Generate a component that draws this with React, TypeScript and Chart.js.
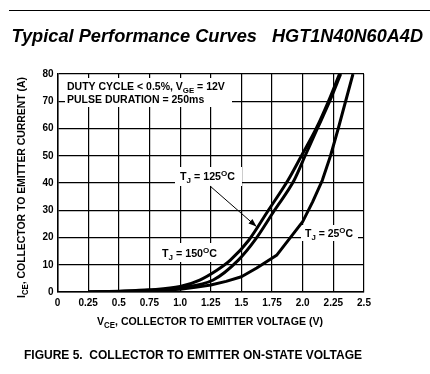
import React, { useEffect, useRef } from "react";
import { Chart, registerables } from "chart.js";

Chart.register(...registerables);

const xTickLabels = ["0", "0.25", "0.5", "0.75", "1.0", "1.25", "1.5", "1.75", "2.0", "2.25", "2.5"];
const yTickLabels = ["0", "10", "20", "30", "40", "50", "60", "70", "80"];

const vce25 = [0.25, 0.5, 0.75, 1.0, 1.125, 1.25, 1.375, 1.5, 1.625, 1.79, 2.0, 2.08, 2.16, 2.227, 2.29, 2.35, 2.41];
const ice25 = [0, 0.15, 0.4, 1.0, 1.7, 2.6, 3.9, 5.6, 8.8, 13.6, 25.8, 33, 41, 50, 60, 70, 80];

const vce125 = [0.25, 0.5, 0.75, 1.0, 1.27, 1.475, 1.61, 1.77, 1.93, 2.02, 2.12, 2.22, 2.31];
const ice125 = [0, 0.2, 0.6, 1.6, 4.4, 11.7, 19, 30, 41, 50, 60, 70, 80];

const vce150 = [0.25, 0.5, 0.75, 1.0, 1.16, 1.3, 1.41, 1.56, 1.72, 1.88, 1.99, 2.11, 2.21, 2.3];
const ice150 = [0, 0.3, 0.8, 2, 4.4, 8, 11.7, 19, 30, 41, 50, 60, 70, 80];

const FONT = "'Liberation Sans', Arial, Helvetica, sans-serif";

type Part = { t: string; s?: "sub" | "sup" };

function partFont(p: Part, size: number, style: string) {
  const sz = p.s ? size * 0.75 : size;
  return `${style} ${sz}px ${FONT}`;
}

function measureRich(ctx: CanvasRenderingContext2D, parts: Part[], size: number, style: string) {
  let w = 0;
  for (const p of parts) {
    ctx.font = partFont(p, size, style);
    w += ctx.measureText(p.t).width;
  }
  return w;
}

function drawRich(
  ctx: CanvasRenderingContext2D,
  parts: Part[],
  x: number,
  y: number,
  size: number,
  style: string,
  targetWidth?: number
) {
  const w = measureRich(ctx, parts, size, style);
  ctx.save();
  ctx.translate(x, y);
  if (targetWidth) ctx.scale(targetWidth / w, 1);
  ctx.textBaseline = "alphabetic";
  ctx.textAlign = "left";
  ctx.fillStyle = "#000";
  let cx = 0;
  for (const p of parts) {
    ctx.font = partFont(p, size, style);
    const dy = p.s === "sub" ? size * 0.3 : p.s === "sup" ? -size * 0.42 : 0;
    ctx.fillText(p.t, cx, dy);
    cx += ctx.measureText(p.t).width;
  }
  ctx.restore();
}

const decorPlugin = {
  id: "decor",
  beforeDatasetsDraw(chart: any) {
    const ctx: CanvasRenderingContext2D = chart.ctx;
    const xs = chart.scales.x;
    const ys = chart.scales.y;
    const px = (v: number) => xs.getPixelForValue(v);
    const py = (v: number) => ys.getPixelForValue(v);
    ctx.save();
    ctx.fillStyle = "#fff";
    ctx.fillRect(65, 78, 167, 29);
    ctx.fillRect(175, 167, 67, 19);
    ctx.fillRect(160, 243, 61, 19);
    ctx.fillRect(301, 225, 57, 16);
    ctx.restore();

    drawRich(ctx, [{ t: "DUTY CYCLE < 0.5%, V" }, { t: "GE", s: "sub" }, { t: " = 12V" }], 67, 90, 10.5, "bold");
    drawRich(ctx, [{ t: "PULSE DURATION = 250ms" }], 67, 103, 10.5, "bold");

    const tj = (val: string): Part[] => [{ t: "T" }, { t: "J", s: "sub" }, { t: " = " + val }, { t: "O", s: "sup" }, { t: "C" }];
    drawRich(ctx, tj("125"), 180, 180, 10.5, "bold", 55);
    drawRich(ctx, tj("150"), 162, 257, 10.5, "bold", 55);
    drawRich(ctx, tj("25"), 305, 237, 10.5, "bold", 48);

    const x0 = px(1.244), y0 = py(38.9);
    const x1 = px(1.623), y1 = py(24.0);
    ctx.save();
    ctx.strokeStyle = "#000";
    ctx.lineWidth = 1;
    ctx.beginPath();
    ctx.moveTo(x0, y0);
    ctx.lineTo(x1, y1);
    ctx.stroke();
    const ang = Math.atan2(y1 - y0, x1 - x0);
    const L = 8, W = 3;
    ctx.fillStyle = "#000";
    ctx.beginPath();
    ctx.moveTo(x1, y1);
    ctx.lineTo(x1 - L * Math.cos(ang) + W * Math.sin(ang), y1 - L * Math.sin(ang) - W * Math.cos(ang));
    ctx.lineTo(x1 - L * Math.cos(ang) - W * Math.sin(ang), y1 - L * Math.sin(ang) + W * Math.cos(ang));
    ctx.closePath();
    ctx.fill();
    ctx.restore();
  },
  afterDraw(chart: any) {
    const ctx: CanvasRenderingContext2D = chart.ctx;
    ctx.save();
    ctx.strokeStyle = "#000";
    ctx.lineWidth = 1;
    ctx.beginPath();
    ctx.moveTo(9, 10.5);
    ctx.lineTo(430, 10.5);
    ctx.stroke();
    ctx.restore();

    drawRich(ctx, [{ t: "Typical Performance Curves" }], 11.5, 41.5, 18.5, "italic bold", 245.5);
    drawRich(ctx, [{ t: "HGT1N40N60A4D" }], 272, 41.5, 18.5, "italic bold", 151);

    drawRich(ctx, [{ t: "V" }, { t: "CE", s: "sub" }, { t: ", COLLECTOR TO EMITTER VOLTAGE (V)" }], 97, 325, 11, "bold", 226);

    ctx.save();
    ctx.translate(25, 298);
    ctx.rotate(-Math.PI / 2);
    drawRich(ctx, [{ t: "I" }, { t: "CE", s: "sub" }, { t: ", COLLECTOR TO EMITTER CURRENT (A)" }], 0, 0, 11, "bold", 221);
    ctx.restore();

    drawRich(ctx, [{ t: "FIGURE 5.  COLLECTOR TO EMITTER ON-STATE VOLTAGE" }], 24, 359, 12, "bold", 338);
  },
};

function pts(xs: number[], ys: number[]) {
  return xs.map((x, i) => ({ x, y: ys[i] }));
}

export default function App() {
  const ref = useRef<HTMLCanvasElement | null>(null);
  useEffect(() => {
    if (!ref.current) return;
    const line = (label: string, data: any, smooth: boolean) => ({
      label,
      data,
      borderColor: "#000",
      borderWidth: 3,
      pointRadius: 0,
      fill: false,
      tension: 0,
      borderJoinStyle: "round" as const,
      cubicInterpolationMode: smooth ? ("monotone" as const) : ("default" as const),
    });
    const chart = new Chart(ref.current, {
      type: "line",
      data: {
        datasets: [
          line("TJ = 25°C", pts(vce25, ice25), false),
          line("TJ = 125°C", pts(vce125, ice125), true),
          line("TJ = 150°C", pts(vce150, ice150), true),
        ],
      },
      options: {
        responsive: false,
        animation: false,
        layout: { padding: { left: 0, top: 74, right: 66, bottom: 0 } },
        plugins: { legend: { display: false }, tooltip: { enabled: false } },
        scales: {
          x: {
            type: "linear",
            min: 0,
            max: 2.5,
            afterFit: (s: any) => {
              s.height = 82;
            },
            afterBuildTicks: (s: any) => {
              s.ticks = xTickLabels.map((_, i) => ({ value: i * 0.25 }));
            },
            ticks: {
              callback: (_v: any, i: number) => xTickLabels[i],
              color: "#000",
              font: { family: FONT, size: 10, weight: "bold" },
              padding: 5,
              maxRotation: 0,
              autoSkip: false,
            },
            grid: { color: "#000", lineWidth: 1.2, drawTicks: false },
            border: { color: "#000", width: 1.5 },
          },
          y: {
            type: "linear",
            min: 0,
            max: 80,
            afterFit: (s: any) => {
              s.width = 57.5;
            },
            afterBuildTicks: (s: any) => {
              s.ticks = yTickLabels.map((_, i) => ({ value: i * 10 }));
            },
            ticks: {
              callback: (_v: any, i: number) => yTickLabels[i],
              color: "#000",
              font: { family: FONT, size: 10, weight: "bold" },
              padding: 4,
              autoSkip: false,
            },
            grid: { color: "#000", lineWidth: 1.2, drawTicks: false },
            border: { color: "#000", width: 1.5 },
          },
        },
      },
      plugins: [decorPlugin],
    });
    return () => chart.destroy();
  }, []);
  return (
    <div style={{ position: "absolute", left: 0, top: 0, width: 430, height: 374, background: "#fff" }}>
      <canvas ref={ref} width={430} height={374} style={{ width: 430, height: 374, display: "block" }} />
    </div>
  );
}
